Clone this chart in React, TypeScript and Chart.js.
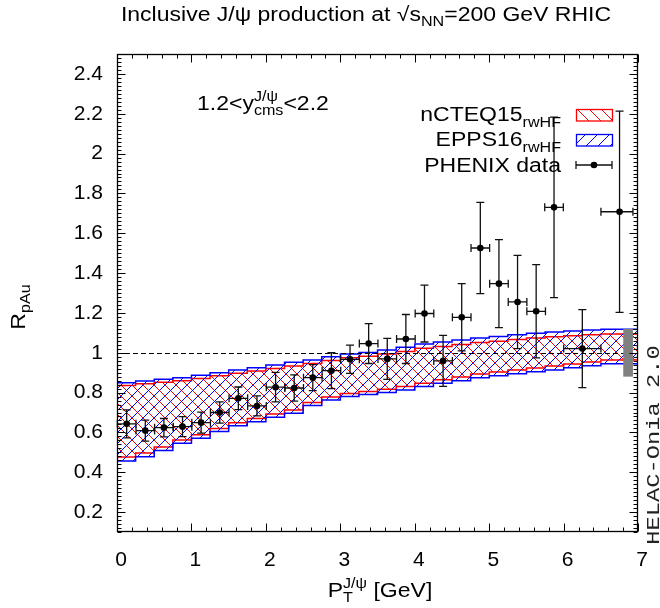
import React, { useEffect, useRef } from "react";
import { Chart, registerables } from "chart.js";
Chart.register(...registerables);

// ---------- data ----------
const binEdges = [0, 0.25, 0.5, 0.75, 1, 1.25, 1.5, 1.75, 2, 2.25, 2.5, 2.75, 3, 3.25, 3.5, 3.75, 4, 4.25, 4.5, 4.75, 5, 5.25, 5.5, 5.75, 6, 6.25, 6.5, 6.75, 7];

const epps16Upper = [0.835, 0.85, 0.858, 0.867, 0.875, 0.887, 0.9, 0.914, 0.925, 0.939, 0.952, 0.964, 0.98, 0.994, 1.001, 1.014, 1.027, 1.044, 1.054, 1.064, 1.074, 1.081, 1.091, 1.098, 1.104, 1.109, 1.114, 1.118];
const epps16Lower = [0.407, 0.457, 0.478, 0.509, 0.545, 0.571, 0.604, 0.633, 0.654, 0.676, 0.696, 0.735, 0.763, 0.78, 0.79, 0.8, 0.813, 0.83, 0.847, 0.86, 0.875, 0.885, 0.895, 0.905, 0.914, 0.925, 0.935, 0.945];
const ncteq15Upper = [0.822, 0.836, 0.844, 0.852, 0.86, 0.871, 0.884, 0.897, 0.908, 0.921, 0.934, 0.946, 0.961, 0.975, 0.982, 0.994, 1.006, 1.022, 1.032, 1.041, 1.051, 1.058, 1.067, 1.074, 1.08, 1.085, 1.09, 1.094];
const ncteq15Lower = [0.43, 0.476, 0.497, 0.527, 0.562, 0.588, 0.62, 0.649, 0.67, 0.692, 0.712, 0.75, 0.778, 0.796, 0.806, 0.817, 0.83, 0.847, 0.864, 0.878, 0.893, 0.903, 0.914, 0.924, 0.933, 0.944, 0.954, 0.963];

const phenixPt = [0.13, 0.38, 0.63, 0.88, 1.13, 1.38, 1.63, 1.88, 2.13, 2.38, 2.63, 2.88, 3.13, 3.38, 3.63, 3.88, 4.13, 4.38, 4.63, 4.88, 5.13, 5.38, 5.63, 5.87, 6.25, 6.75];
const phenixR = [0.643, 0.609, 0.624, 0.629, 0.649, 0.7, 0.771, 0.733, 0.827, 0.823, 0.875, 0.91, 0.967, 1.046, 0.969, 1.069, 1.197, 0.959, 1.178, 1.526, 1.347, 1.255, 1.208, 1.73, 1.021, 1.708];
const phenixErr = [0.07, 0.053, 0.046, 0.05, 0.053, 0.053, 0.057, 0.05, 0.074, 0.066, 0.065, 0.09, 0.071, 0.1, 0.103, 0.123, 0.143, 0.128, 0.169, 0.229, 0.221, 0.234, 0.234, 0.453, 0.196, 0.505];
const phenixPtErrLow = [0.125, 0.125, 0.125, 0.125, 0.125, 0.125, 0.125, 0.125, 0.125, 0.125, 0.125, 0.125, 0.125, 0.125, 0.125, 0.125, 0.125, 0.125, 0.125, 0.125, 0.125, 0.125, 0.125, 0.125, 0.25, 0.25];
const phenixPtErrHigh = [0.125, 0.125, 0.125, 0.125, 0.125, 0.125, 0.125, 0.125, 0.125, 0.125, 0.125, 0.125, 0.125, 0.125, 0.125, 0.125, 0.125, 0.125, 0.125, 0.125, 0.125, 0.125, 0.125, 0.125, 0.25, 0.18];

const globalUncX = [6.8, 6.93];
const globalUncY = [0.88, 1.12];

const xTicks = [0, 1, 2, 3, 4, 5, 6, 7];
const yTicks = [0.2, 0.4, 0.6, 0.8, 1, 1.2, 1.4, 1.6, 1.8, 2, 2.2, 2.4];
const xRange = [0, 7];
const yRange = [0.1, 2.5];
const refLine = 1;

// ---------- helpers ----------
const FONT = '"Liberation Sans", Arial, Helvetica, sans-serif';
const SX = 1.15;

type Run = { t: string; size: number; dy: number; stack?: boolean };

function layoutRuns(ctx: CanvasRenderingContext2D, runs: Run[]) {
  let x = 0;
  const pos: number[] = [];
  let pendStart: number | null = null;
  let pendW = 0;
  for (const r of runs) {
    ctx.font = `${r.size}px ${FONT}`;
    const w = ctx.measureText(r.t).width * SX;
    if (pendStart !== null) {
      pos.push(pendStart);
      x = pendStart + Math.max(w, pendW);
      pendStart = null;
      continue;
    }
    pos.push(x);
    if (r.stack) {
      pendStart = x;
      pendW = w;
    } else x += w;
  }
  return { pos, width: x };
}

function drawRuns(ctx: CanvasRenderingContext2D, runs: Run[], x: number, y: number, align: "left" | "center" | "right", rotate = 0) {
  const { pos, width } = layoutRuns(ctx, runs);
  const x0 = align === "left" ? 0 : align === "center" ? -width / 2 : -width;
  ctx.save();
  ctx.translate(x, y);
  if (rotate) ctx.rotate(rotate);
  ctx.scale(SX, 1);
  ctx.fillStyle = "#000";
  ctx.textAlign = "left";
  ctx.textBaseline = "alphabetic";
  runs.forEach((r, i) => {
    ctx.font = `${r.size}px ${FONT}`;
    ctx.fillText(r.t, (x0 + pos[i]) / SX, r.dy);
  });
  ctx.restore();
}

function makeHatch(color: string, dir: "/" | "\\", size: number) {
  const c = document.createElement("canvas");
  c.width = size;
  c.height = size;
  const g = c.getContext("2d")!;
  g.strokeStyle = color;
  g.lineWidth = 1;
  for (let k = -1; k <= 1; k++) {
    g.beginPath();
    if (dir === "/") {
      g.moveTo(k * size, size);
      g.lineTo(k * size + size, 0);
    } else {
      g.moveTo(k * size, 0);
      g.lineTo(k * size + size, size);
    }
    g.stroke();
  }
  return g.createPattern(c, "repeat")!;
}

function stepPoints(vals: number[]) {
  return binEdges.map((x, i) => ({ x, y: vals[Math.min(i, vals.length - 1)] }));
}

export default function App() {
  const ref = useRef<HTMLCanvasElement | null>(null);

  useEffect(() => {
    const canvas = ref.current!;
    const redHatch = makeHatch("#ff0000", "\\", 11);
    const blueHatch = makeHatch("#0000ff", "/", 11);

    const decorations = {
      id: "decorations",
      beforeDatasetDraw(chart: any, args: any) {
        if (args.index !== 0) return;
        const ctx: CanvasRenderingContext2D = chart.ctx;
        const xs = chart.scales.x;
        const ys = chart.scales.y;
        const ca = chart.chartArea;
        // dashed reference line
        ctx.save();
        ctx.strokeStyle = "#000";
        ctx.lineWidth = 1;
        ctx.setLineDash([5, 3]);
        ctx.beginPath();
        const yr = Math.round(ys.getPixelForValue(refLine)) + 0.5;
        ctx.moveTo(ca.left, yr);
        ctx.lineTo(ca.right, yr);
        ctx.stroke();
        ctx.restore();
        // global uncertainty box
        ctx.save();
        ctx.fillStyle = "#808080";
        const gx0 = xs.getPixelForValue(globalUncX[0]);
        const gx1 = xs.getPixelForValue(globalUncX[1]);
        const gy0 = ys.getPixelForValue(globalUncY[1]);
        const gy1 = ys.getPixelForValue(globalUncY[0]);
        ctx.fillRect(gx0, gy0, gx1 - gx0, gy1 - gy0);
        ctx.restore();
        // error bars
        ctx.save();
        ctx.strokeStyle = "#111";
        ctx.lineWidth = 1.3;
        const cap = 4;
        phenixPt.forEach((pt, i) => {
          const px = xs.getPixelForValue(pt);
          const py = ys.getPixelForValue(phenixR[i]);
          const xl = xs.getPixelForValue(pt - phenixPtErrLow[i]);
          const xh = xs.getPixelForValue(pt + phenixPtErrHigh[i]);
          const yl = ys.getPixelForValue(phenixR[i] - phenixErr[i]);
          const yh = ys.getPixelForValue(phenixR[i] + phenixErr[i]);
          ctx.beginPath();
          ctx.moveTo(xl, py); ctx.lineTo(xh, py);
          ctx.moveTo(xl, py - cap); ctx.lineTo(xl, py + cap);
          ctx.moveTo(xh, py - cap); ctx.lineTo(xh, py + cap);
          ctx.moveTo(px, yl); ctx.lineTo(px, yh);
          ctx.moveTo(px - cap, yl); ctx.lineTo(px + cap, yl);
          ctx.moveTo(px - cap, yh); ctx.lineTo(px + cap, yh);
          ctx.stroke();
        });
        ctx.restore();
      },
      afterDraw(chart: any) {
        const ctx: CanvasRenderingContext2D = chart.ctx;
        const xs = chart.scales.x;
        const ys = chart.scales.y;
        const ca = chart.chartArea;
        const L = Math.round(ca.left) + 0.5, R = Math.round(ca.right) - 0.5;
        const T = Math.round(ca.top) + 0.5, B = Math.round(ca.bottom) - 0.5;
        ctx.save();
        ctx.strokeStyle = "#000";
        ctx.lineWidth = 1.3;
        ctx.strokeRect(L, T, R - L, B - T);
        ctx.lineWidth = 1;
        ctx.beginPath();
        // x ticks
        for (let v = xRange[0]; v <= xRange[1] + 1e-9; v += 0.2) {
          const px = Math.round(xs.getPixelForValue(v)) + 0.5;
          const major = Math.abs(v - Math.round(v)) < 1e-6;
          const len = major ? 8 : 4;
          ctx.moveTo(px, B); ctx.lineTo(px, B - len);
          ctx.moveTo(px, T); ctx.lineTo(px, T + len);
        }
        // y ticks
        for (let k = 0; k <= 120; k++) {
          const v = yRange[0] + k * 0.02;
          if (v > yRange[1] + 1e-9) break;
          const py = Math.round(ys.getPixelForValue(v)) + 0.5;
          const major = Math.abs(v * 5 - Math.round(v * 5)) < 1e-6;
          const len = major ? 8 : 4;
          ctx.moveTo(L, py); ctx.lineTo(L + len, py);
          ctx.moveTo(R, py); ctx.lineTo(R - len, py);
        }
        ctx.stroke();
        ctx.restore();

        // title
        drawRuns(ctx, [
          { t: "Inclusive J/\u03c8 production at \u221as", size: 20, dy: 0 },
          { t: "NN", size: 14, dy: 5 },
          { t: "=200 GeV RHIC", size: 20, dy: 0 },
        ], 366, 21, "center");

        // rapidity annotation
        drawRuns(ctx, [
          { t: "1.2<y", size: 20, dy: 0 },
          { t: "J/\u03c8", size: 14, dy: -9, stack: true },
          { t: "cms", size: 14, dy: 5 },
          { t: "<2.2", size: 20, dy: 0 },
        ], 197, 110, "left");

        // legend
        const lx0 = 576, lx1 = 612;
        drawRuns(ctx, [{ t: "nCTEQ15", size: 20, dy: 0 }, { t: "rwHF", size: 14, dy: 6 }], 561, 121, "right");
        drawRuns(ctx, [{ t: "EPPS16", size: 20, dy: 0 }, { t: "rwHF", size: 14, dy: 6 }], 561, 145.5, "right");
        drawRuns(ctx, [{ t: "PHENIX data", size: 20, dy: 0 }], 561, 172, "right");
        ctx.save();
        ctx.fillStyle = makeHatch("#ff0000", "\\", 12);
        ctx.fillRect(lx0, 109, lx1 - lx0, 12);
        ctx.strokeStyle = "#ff0000";
        ctx.lineWidth = 1.3;
        ctx.strokeRect(lx0 + 0.5, 109.5, lx1 - lx0, 11.5);
        ctx.fillStyle = makeHatch("#0000ff", "/", 12);
        ctx.fillRect(lx0, 134, lx1 - lx0, 12);
        ctx.strokeStyle = "#0000ff";
        ctx.strokeRect(lx0 + 0.5, 134.5, lx1 - lx0, 11.5);
        ctx.strokeStyle = "#111";
        ctx.beginPath();
        ctx.moveTo(lx0, 165); ctx.lineTo(lx1, 165);
        ctx.moveTo(lx0, 161); ctx.lineTo(lx0, 169);
        ctx.moveTo(lx1, 161); ctx.lineTo(lx1, 169);
        ctx.stroke();
        ctx.fillStyle = "#000";
        ctx.beginPath();
        ctx.arc((lx0 + lx1) / 2, 165, 3.3, 0, Math.PI * 2);
        ctx.fill();
        ctx.restore();

        // axis titles
        drawRuns(ctx, [
          { t: "P", size: 20, dy: 0 },
          { t: "J/\u03c8", size: 14, dy: -9, stack: true },
          { t: "T", size: 14, dy: 5 },
          { t: " [GeV]", size: 20, dy: 0 },
        ], 380, 597, "center");
        drawRuns(ctx, [{ t: "R", size: 20, dy: 0 }, { t: "pAu", size: 14, dy: 5 }], 25, 307, "center", -Math.PI / 2);

        // program tag
        ctx.save();
        ctx.translate(659, 445);
        ctx.rotate(-Math.PI / 2);
        ctx.scale(1.25, 1);
        ctx.font = '19px "Liberation Mono", "DejaVu Sans Mono", monospace';
        ctx.fillStyle = "#222";
        ctx.textAlign = "center";
        ctx.fillText("HELAC-Onia 2.0", 0, 0);
        ctx.restore();
      },
    };

    const chart = new Chart(canvas, {
      type: "line",
      data: {
        datasets: [
          {
            type: "scatter",
            label: "PHENIX data",
            data: phenixPt.map((x, i) => ({ x, y: phenixR[i] })),
            pointRadius: 3.3,
            pointBackgroundColor: "#000",
            pointBorderColor: "#000",
            pointBorderWidth: 0,
            showLine: false,
          } as any,
          {
            label: "EPPS16",
            data: stepPoints(epps16Upper),
            stepped: "after",
            borderColor: "#0000ff",
            borderWidth: 1.5,
            pointRadius: 0,
            fill: "+1",
            backgroundColor: blueHatch,
          },
          {
            label: "EPPS16 lower",
            data: stepPoints(epps16Lower),
            stepped: "after",
            borderColor: "#0000ff",
            borderWidth: 1.5,
            pointRadius: 0,
            fill: false,
          },
          {
            label: "nCTEQ15",
            data: stepPoints(ncteq15Upper),
            stepped: "after",
            borderColor: "#ff0000",
            borderWidth: 1.5,
            pointRadius: 0,
            fill: "+1",
            backgroundColor: redHatch,
          },
          {
            label: "nCTEQ15 lower",
            data: stepPoints(ncteq15Lower),
            stepped: "after",
            borderColor: "#ff0000",
            borderWidth: 1.5,
            pointRadius: 0,
            fill: false,
          },
        ],
      },
      options: {
        responsive: false,
        animation: false,
        layout: { padding: { top: 54, right: 17, left: 0, bottom: 0 } },
        plugins: { legend: { display: false }, tooltip: { enabled: false }, title: { display: false } },
        scales: {
          x: {
            type: "linear",
            min: xRange[0],
            max: xRange[1],
            grid: { display: false, drawTicks: false },
            border: { display: false },
            afterBuildTicks: (s: any) => { s.ticks = xTicks.map((v) => ({ value: v })); },
            afterFit: (s: any) => { s.height = 76; },
            ticks: { color: "#000", font: { family: FONT, size: 21 }, padding: 16, labelOffset: 4, maxRotation: 0, autoSkip: false, callback: (v: any) => String(v) },
          },
          y: {
            type: "linear",
            min: yRange[0],
            max: yRange[1],
            grid: { display: false, drawTicks: false },
            border: { display: false },
            afterBuildTicks: (s: any) => { s.ticks = yTicks.map((v) => ({ value: v })); },
            afterFit: (s: any) => { s.width = 117; },
            ticks: { color: "#000", font: { family: FONT, size: 21 }, padding: 14, autoSkip: false, callback: (v: any) => String(Math.round(v * 10) / 10) },
          },
        },
      },
      plugins: [decorations],
    } as any);
    return () => chart.destroy();
  }, []);

  return (
    <div style={{ position: "absolute", left: 0, top: 0, width: 660, height: 608, background: "#fff" }}>
      <canvas ref={ref} width={660} height={608} style={{ display: "block" }} />
    </div>
  );
}
